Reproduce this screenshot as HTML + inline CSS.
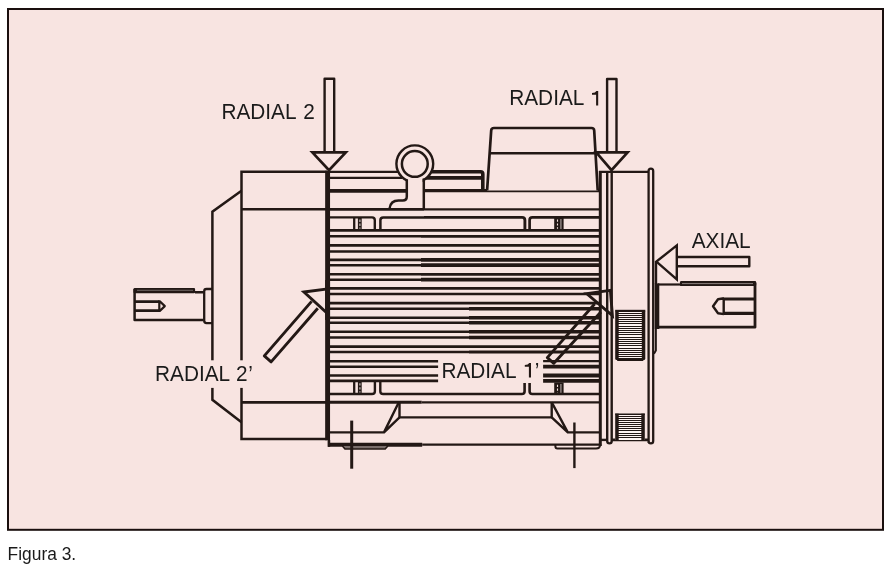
<!DOCTYPE html>
<html><head><meta charset="utf-8"><title>Figura 3</title>
<style>
html,body{margin:0;padding:0;background:#fff;}
body{width:893px;height:569px;overflow:hidden;position:relative;font-family:"Liberation Sans",sans-serif;}
svg{position:absolute;left:0;top:0;display:block;}
text{font-family:"Liberation Sans",sans-serif;fill:#231815;}
</style></head><body>
<svg width="893" height="569" viewBox="0 0 893 569">
<rect x="0" y="0" width="893" height="569" fill="#ffffff"/>
<rect x="8" y="9" width="875" height="520.8" fill="#f8e4e1" stroke="#1a0f0e" stroke-width="2"/>
<g stroke="#231815" fill="none">
<path d="M241.5 190.8 L212.4 211.7 L212.4 399.8 L241.5 422.3" stroke-width="2.5" fill="none" stroke-linejoin="miter" stroke-linecap="butt" />
<path d="M327 171.8 L241.5 171.8 L241.5 439.1 L327 439.1" stroke-width="2.5" fill="none" stroke-linejoin="miter" stroke-linecap="butt" />
<line x1="241.5" y1="209.3" x2="330" y2="209.3" stroke-width="2.5" stroke-linecap="butt" />
<line x1="241.5" y1="402.3" x2="330" y2="402.3" stroke-width="2.7" stroke-linecap="butt" />
<path d="M203.5 292.2 L195 292.2 M203.5 319.9 L134.6 319.9 L134.6 289" stroke-width="2.5" fill="none" stroke-linejoin="round" stroke-linecap="butt" />
<rect x="133.5" y="287.9" width="61.6" height="5.4" fill="#231815" stroke="none" stroke-width="0" rx="1.2"/>
<line x1="137" y1="290.3" x2="193" y2="290.3" stroke="#5f5653" stroke-width="1.2"/>
<path d="M212.4 289 L206.5 289 Q204.2 289 204.2 291.3 L204.2 320.8 Q204.2 323.1 206.5 323.1 L212.4 323.1" stroke-width="2.3" fill="none" stroke-linejoin="miter" stroke-linecap="butt" />
<path d="M134.6 301.6 L159.3 301.6 M134.6 310.6 L159.3 310.6" stroke-width="2.8" fill="none" stroke-linejoin="miter" stroke-linecap="butt" />
<path d="M159.3 300.3 L159.3 311.9 M159.8 301.2 L164.8 306.1 L159.8 311.0" stroke-width="2.2" fill="none" stroke-linejoin="round" stroke-linecap="butt" />
<line x1="330" y1="230.4" x2="421" y2="230.4" stroke-width="2.6" stroke-linecap="butt" />
<line x1="421" y1="230.4" x2="469" y2="230.4" stroke-width="2.9" stroke-linecap="butt" />
<line x1="469" y1="230.4" x2="600" y2="230.4" stroke-width="2.9" stroke-linecap="butt" />
<line x1="330" y1="236.3" x2="421" y2="236.3" stroke-width="2.6" stroke-linecap="butt" />
<line x1="421" y1="236.3" x2="469" y2="236.3" stroke-width="2.8" stroke-linecap="butt" />
<line x1="469" y1="236.3" x2="600" y2="236.3" stroke-width="2.8" stroke-linecap="butt" />
<line x1="330" y1="245.4" x2="421" y2="245.4" stroke-width="2.6" stroke-linecap="butt" />
<line x1="421" y1="245.4" x2="469" y2="245.4" stroke-width="2.8" stroke-linecap="butt" />
<line x1="469" y1="245.4" x2="600" y2="245.4" stroke-width="2.8" stroke-linecap="butt" />
<line x1="330" y1="251.5" x2="421" y2="251.5" stroke-width="2.6" stroke-linecap="butt" />
<line x1="421" y1="251.5" x2="469" y2="251.5" stroke-width="2.6" stroke-linecap="butt" />
<line x1="469" y1="251.5" x2="600" y2="251.5" stroke-width="2.6" stroke-linecap="butt" />
<line x1="330" y1="259.9" x2="421" y2="259.9" stroke-width="2.6" stroke-linecap="butt" />
<line x1="421" y1="259.9" x2="469" y2="259.9" stroke-width="3.7" stroke-linecap="butt" />
<line x1="469" y1="259.9" x2="600" y2="259.9" stroke-width="3.7" stroke-linecap="butt" />
<line x1="330" y1="265.2" x2="421" y2="265.2" stroke-width="2.6" stroke-linecap="butt" />
<line x1="421" y1="265.2" x2="469" y2="265.2" stroke-width="3.7" stroke-linecap="butt" />
<line x1="469" y1="265.2" x2="600" y2="265.2" stroke-width="3.7" stroke-linecap="butt" />
<line x1="330" y1="274.3" x2="421" y2="274.3" stroke-width="2.6" stroke-linecap="butt" />
<line x1="421" y1="274.3" x2="469" y2="274.3" stroke-width="2.8" stroke-linecap="butt" />
<line x1="469" y1="274.3" x2="600" y2="274.3" stroke-width="2.8" stroke-linecap="butt" />
<line x1="330" y1="279.7" x2="421" y2="279.7" stroke-width="2.6" stroke-linecap="butt" />
<line x1="421" y1="279.7" x2="469" y2="279.7" stroke-width="3.7" stroke-linecap="butt" />
<line x1="469" y1="279.7" x2="600" y2="279.7" stroke-width="3.7" stroke-linecap="butt" />
<line x1="330" y1="288.4" x2="421" y2="288.4" stroke-width="2.6" stroke-linecap="butt" />
<line x1="421" y1="288.4" x2="469" y2="288.4" stroke-width="2.7" stroke-linecap="butt" />
<line x1="469" y1="288.4" x2="600" y2="288.4" stroke-width="2.7" stroke-linecap="butt" />
<line x1="330" y1="294.0" x2="421" y2="294.0" stroke-width="2.6" stroke-linecap="butt" />
<line x1="421" y1="294.0" x2="469" y2="294.0" stroke-width="2.7" stroke-linecap="butt" />
<line x1="469" y1="294.0" x2="600" y2="294.0" stroke-width="2.7" stroke-linecap="butt" />
<line x1="330" y1="303.1" x2="421" y2="303.1" stroke-width="2.6" stroke-linecap="butt" />
<line x1="421" y1="303.1" x2="469" y2="303.1" stroke-width="2.6" stroke-linecap="butt" />
<line x1="469" y1="303.1" x2="600" y2="303.1" stroke-width="2.9" stroke-linecap="butt" />
<line x1="330" y1="308.8" x2="421" y2="308.8" stroke-width="2.6" stroke-linecap="butt" />
<line x1="421" y1="308.8" x2="469" y2="308.8" stroke-width="2.6" stroke-linecap="butt" />
<line x1="469" y1="308.8" x2="600" y2="308.8" stroke-width="3.6" stroke-linecap="butt" />
<line x1="330" y1="317.7" x2="421" y2="317.7" stroke-width="2.6" stroke-linecap="butt" />
<line x1="421" y1="317.7" x2="469" y2="317.7" stroke-width="2.6" stroke-linecap="butt" />
<line x1="469" y1="317.7" x2="600" y2="317.7" stroke-width="3.6" stroke-linecap="butt" />
<line x1="330" y1="322.8" x2="421" y2="322.8" stroke-width="2.6" stroke-linecap="butt" />
<line x1="421" y1="322.8" x2="469" y2="322.8" stroke-width="2.6" stroke-linecap="butt" />
<line x1="469" y1="322.8" x2="600" y2="322.8" stroke-width="3.6" stroke-linecap="butt" />
<line x1="330" y1="331.8" x2="421" y2="331.8" stroke-width="2.6" stroke-linecap="butt" />
<line x1="421" y1="331.8" x2="469" y2="331.8" stroke-width="2.6" stroke-linecap="butt" />
<line x1="469" y1="331.8" x2="600" y2="331.8" stroke-width="3.6" stroke-linecap="butt" />
<line x1="330" y1="337.5" x2="421" y2="337.5" stroke-width="2.6" stroke-linecap="butt" />
<line x1="421" y1="337.5" x2="469" y2="337.5" stroke-width="2.6" stroke-linecap="butt" />
<line x1="469" y1="337.5" x2="600" y2="337.5" stroke-width="3.7" stroke-linecap="butt" />
<line x1="330" y1="346.6" x2="421" y2="346.6" stroke-width="2.6" stroke-linecap="butt" />
<line x1="421" y1="346.6" x2="469" y2="346.6" stroke-width="2.6" stroke-linecap="butt" />
<line x1="469" y1="346.6" x2="600" y2="346.6" stroke-width="2.9" stroke-linecap="butt" />
<line x1="330" y1="352.0" x2="421" y2="352.0" stroke-width="2.6" stroke-linecap="butt" />
<line x1="421" y1="352.0" x2="469" y2="352.0" stroke-width="2.6" stroke-linecap="butt" />
<line x1="469" y1="352.0" x2="600" y2="352.0" stroke-width="2.9" stroke-linecap="butt" />
<line x1="330" y1="361.2" x2="421" y2="361.2" stroke-width="2.6" stroke-linecap="butt" />
<line x1="421" y1="361.2" x2="469" y2="361.2" stroke-width="2.6" stroke-linecap="butt" />
<line x1="469" y1="361.2" x2="600" y2="361.2" stroke-width="2.3" stroke-linecap="butt" />
<line x1="330" y1="366.7" x2="421" y2="366.7" stroke-width="2.6" stroke-linecap="butt" />
<line x1="421" y1="366.7" x2="469" y2="366.7" stroke-width="2.6" stroke-linecap="butt" />
<line x1="469" y1="366.7" x2="600" y2="366.7" stroke-width="3.8" stroke-linecap="butt" />
<line x1="330" y1="375.5" x2="421" y2="375.5" stroke-width="2.6" stroke-linecap="butt" />
<line x1="421" y1="375.5" x2="469" y2="375.5" stroke-width="2.6" stroke-linecap="butt" />
<line x1="469" y1="375.5" x2="600" y2="375.5" stroke-width="3.8" stroke-linecap="butt" />
<line x1="330" y1="380.9" x2="421" y2="380.9" stroke-width="2.6" stroke-linecap="butt" />
<line x1="421" y1="380.9" x2="469" y2="380.9" stroke-width="2.6" stroke-linecap="butt" />
<line x1="469" y1="380.9" x2="600" y2="380.9" stroke-width="3.8" stroke-linecap="butt" />
<line x1="329" y1="171.8" x2="400" y2="171.8" stroke-width="2.2" stroke-linecap="butt" />
<line x1="329" y1="177.8" x2="402" y2="177.8" stroke-width="2.2" stroke-linecap="butt" />
<line x1="329" y1="190.9" x2="406.8" y2="190.9" stroke-width="3.7" stroke-linecap="butt" />
<path d="M430 171.8 L480.5 171.8 Q482.8 171.8 482.8 174.1 L482.8 190" stroke-width="3.6" fill="none" stroke-linejoin="miter" stroke-linecap="butt" />
<line x1="425" y1="177.9" x2="482.8" y2="177.9" stroke-width="3.6" stroke-linecap="butt" />
<line x1="423.8" y1="190.6" x2="600" y2="190.6" stroke-width="3.1" stroke-linecap="butt" />
<line x1="329" y1="209.3" x2="424" y2="209.3" stroke-width="2.7" stroke-linecap="butt" />
<line x1="424" y1="209.3" x2="600" y2="209.3" stroke-width="2.3" stroke-linecap="butt" />
<path d="M330 217.4 L372 217.4 Q374.8 217.4 374.8 220.2 L374.8 230.3" stroke-width="2.4" fill="none" stroke-linejoin="miter" stroke-linecap="butt" />
<path d="M380.4 230.3 L380.4 220.2 Q380.4 217.4 383.2 217.4 L424 217.4" stroke-width="2.5" fill="none" stroke-linejoin="miter" stroke-linecap="butt" />
<path d="M424 217.4 L522 217.4 Q524.9 217.4 524.9 220.2 L524.9 230.3" stroke-width="2.9" fill="none" stroke-linejoin="miter" stroke-linecap="butt" />
<path d="M529.6 230.3 L529.6 220.2 Q529.6 217.4 532.4 217.4 L600 217.4" stroke-width="2.7" fill="none" stroke-linejoin="miter" stroke-linecap="butt" />
<line x1="354.2" y1="217.4" x2="354.2" y2="230.3" stroke-width="2.3" stroke-linecap="butt" />
<line x1="359.8" y1="217.4" x2="359.8" y2="230.3" stroke-width="3.8" stroke-linecap="butt" />
<line x1="359.9" y1="219.6" x2="359.9" y2="228.8" stroke="#a79c99" stroke-width="1.5" stroke-dasharray="2.4 1.6"/>
<rect x="554.2" y="217.4" width="9.399999999999977" height="12.900000000000006" fill="#231815" stroke="none" stroke-width="0" rx="0"/>
<line x1="557.5" y1="219.6" x2="557.5" y2="228.8" stroke="#f3dfdc" stroke-width="1.1" stroke-dasharray="2.2 1.6"/>
<line x1="560.9000000000001" y1="218.9" x2="560.9000000000001" y2="229.10000000000002" stroke="#8d827f" stroke-width="1.5"/>
<path d="M374.9 381 L374.9 391.2 Q374.9 394 372 394 L330 394" stroke-width="2.4" fill="none" stroke-linejoin="miter" stroke-linecap="butt" />
<path d="M380.3 381 L380.3 391.2 Q380.3 394 383.2 394 L424 394" stroke-width="2.4" fill="none" stroke-linejoin="miter" stroke-linecap="butt" />
<path d="M424 394 L521.8 394 Q524.6 394 524.6 391.2 L524.6 381" stroke-width="2.6" fill="none" stroke-linejoin="miter" stroke-linecap="butt" />
<path d="M529.6 381 L529.6 391.2 Q529.6 394 532.4 394 L600 394" stroke-width="2.6" fill="none" stroke-linejoin="miter" stroke-linecap="butt" />
<line x1="354.2" y1="381" x2="354.2" y2="394" stroke-width="2.3" stroke-linecap="butt" />
<line x1="359.8" y1="381" x2="359.8" y2="394" stroke-width="3.8" stroke-linecap="butt" />
<line x1="359.9" y1="383.2" x2="359.9" y2="392.5" stroke="#a79c99" stroke-width="1.5" stroke-dasharray="2.4 1.6"/>
<rect x="554.2" y="382.5" width="9.399999999999977" height="11.5" fill="#231815" stroke="none" stroke-width="0" rx="0"/>
<line x1="557.5" y1="384.7" x2="557.5" y2="392.5" stroke="#f3dfdc" stroke-width="1.1" stroke-dasharray="2.2 1.6"/>
<line x1="560.9000000000001" y1="384.0" x2="560.9000000000001" y2="392.8" stroke="#8d827f" stroke-width="1.5"/>
<line x1="329" y1="402.3" x2="421.7" y2="402.3" stroke-width="3.0" stroke-linecap="butt" />
<line x1="421.7" y1="402.3" x2="600" y2="402.3" stroke-width="2.3" stroke-linecap="butt" />
<path d="M330 432.4 L384 432.4 L398.8 402.3 M384 432.4 L399.5 417.4" stroke-width="2.4" fill="none" stroke-linejoin="round" stroke-linecap="butt" />
<path d="M399.5 402.3 L399.5 417.4 L551.7 417.4 L551.7 402.3" stroke-width="2.4" fill="none" stroke-linejoin="miter" stroke-linecap="butt" />
<path d="M551.7 402.3 L567.8 432.4 L600 432.4 M551.7 417.4 L567.8 432.4" stroke-width="2.4" fill="none" stroke-linejoin="round" stroke-linecap="butt" />
<line x1="328" y1="444.8" x2="422.2" y2="444.8" stroke-width="4.0" stroke-linecap="butt" />
<line x1="422.2" y1="444.7" x2="600" y2="444.7" stroke-width="2.2" stroke-linecap="butt" />
<path d="M342.4 446 L345 449.0 L385.2 449.0 L387.8 446" stroke-width="1.6" fill="#7a6e6b" stroke-linejoin="miter" stroke-linecap="butt" />
<path d="M555.4 445 L555.4 446.5 Q555.4 448.5 557.4 448.5 L596 448.5 Q600.3 448.5 600.3 444" stroke-width="2.0" fill="none" stroke-linejoin="miter" stroke-linecap="butt" />
<line x1="351.7" y1="420.6" x2="351.7" y2="468.7" stroke-width="3.0" stroke-linecap="butt" />
<line x1="574.4" y1="422.5" x2="574.4" y2="468.1" stroke-width="2.4" stroke-linecap="butt" />
<line x1="327.6" y1="170.8" x2="327.6" y2="440.2" stroke-width="4.9" stroke-linecap="butt" />
<line x1="328.9" y1="440" x2="328.9" y2="446.8" stroke-width="2.6" stroke-linecap="butt" />
<circle cx="414.8" cy="163.8" r="18.4" fill="#f8e4e1" stroke-width="2.4"/>
<circle cx="414.8" cy="163.9" r="12.9" fill="#f8e4e1" stroke-width="2.5"/>
<rect x="408" y="178.5" width="14.6" height="29" fill="#f8e4e1" stroke="none" stroke-width="0" rx="0"/>
<path d="M406.8 179.5 L406.8 196.5 Q406.8 200.5 402.8 200.5 L398.5 200.5 Q390.5 200.5 389.6 208.5" stroke-width="2.5" fill="none" stroke-linejoin="miter" stroke-linecap="butt" />
<line x1="423.8" y1="178.5" x2="423.8" y2="209.3" stroke-width="2.5" stroke-linecap="butt" />
<path d="M487.1 190.4 L491.2 130.5 Q491.4 128 494 128 L591.5 128 Q594 128 594.2 130.5 L597.7 190.4" stroke-width="2.7" fill="#f8e4e1" stroke-linejoin="miter" stroke-linecap="butt" />
<line x1="489.6" y1="153.3" x2="595.4" y2="153.3" stroke-width="2.4" stroke-linecap="butt" />
<line x1="600.3" y1="171" x2="600.3" y2="446" stroke-width="3.0" stroke-linecap="butt" />
<line x1="599" y1="171.9" x2="648.5" y2="171.9" stroke-width="2.2" stroke-linecap="butt" />
<path d="M607.2 172 L607.2 441 Q607.2 443.4 609.5 443.4 Q611.7 443.4 611.7 441 L611.7 172" stroke-width="2.4" fill="none" stroke-linejoin="miter" stroke-linecap="butt" />
<path d="M648.6 443 L648.6 171 Q648.6 168.6 650.9 168.6 Q653.2 168.6 653.2 171 L653.2 441 Q653.2 443.4 650.9 443.4 Q648.6 443.4 648.6 441" stroke-width="2.3" fill="none" stroke-linejoin="miter" stroke-linecap="butt" />
<line x1="600" y1="439.9" x2="607.2" y2="439.9" stroke-width="2.4" stroke-linecap="butt" />
<line x1="611.7" y1="439.9" x2="648.4" y2="439.9" stroke-width="2.6" stroke-linecap="butt" />
<rect x="615.2" y="310.0" width="30.09999999999991" height="50.0" fill="#fff4f2" stroke="none" stroke-width="0" rx="1.5"/>
<line x1="617.2" y1="311.5" x2="643.3" y2="311.5" stroke-width="1.0" stroke-linecap="butt" />
<line x1="617.2" y1="313.5" x2="643.3" y2="313.5" stroke-width="1.0" stroke-linecap="butt" />
<line x1="617.2" y1="315.5" x2="643.3" y2="315.5" stroke-width="1.0" stroke-linecap="butt" />
<line x1="617.2" y1="317.5" x2="643.3" y2="317.5" stroke-width="1.0" stroke-linecap="butt" />
<line x1="617.2" y1="319.5" x2="643.3" y2="319.5" stroke-width="1.0" stroke-linecap="butt" />
<line x1="617.2" y1="321.5" x2="643.3" y2="321.5" stroke-width="1.0" stroke-linecap="butt" />
<line x1="617.2" y1="323.5" x2="643.3" y2="323.5" stroke-width="1.0" stroke-linecap="butt" />
<line x1="617.2" y1="326.5" x2="643.3" y2="326.5" stroke-width="1.0" stroke-linecap="butt" />
<line x1="617.2" y1="328.5" x2="643.3" y2="328.5" stroke-width="1.0" stroke-linecap="butt" />
<line x1="617.2" y1="330.5" x2="643.3" y2="330.5" stroke-width="1.0" stroke-linecap="butt" />
<line x1="617.2" y1="332.5" x2="643.3" y2="332.5" stroke-width="1.0" stroke-linecap="butt" />
<line x1="617.2" y1="334.5" x2="643.3" y2="334.5" stroke-width="1.0" stroke-linecap="butt" />
<line x1="617.2" y1="337.5" x2="643.3" y2="337.5" stroke-width="1.0" stroke-linecap="butt" />
<line x1="617.2" y1="339.5" x2="643.3" y2="339.5" stroke-width="1.0" stroke-linecap="butt" />
<line x1="617.2" y1="341.5" x2="643.3" y2="341.5" stroke-width="1.0" stroke-linecap="butt" />
<line x1="617.2" y1="343.5" x2="643.3" y2="343.5" stroke-width="1.0" stroke-linecap="butt" />
<line x1="617.2" y1="345.5" x2="643.3" y2="345.5" stroke-width="1.0" stroke-linecap="butt" />
<line x1="617.2" y1="348.5" x2="643.3" y2="348.5" stroke-width="1.0" stroke-linecap="butt" />
<line x1="617.2" y1="350.5" x2="643.3" y2="350.5" stroke-width="1.0" stroke-linecap="butt" />
<line x1="617.2" y1="352.5" x2="643.3" y2="352.5" stroke-width="1.0" stroke-linecap="butt" />
<line x1="617.2" y1="354.5" x2="643.3" y2="354.5" stroke-width="1.0" stroke-linecap="butt" />
<line x1="617.2" y1="356.5" x2="643.3" y2="356.5" stroke-width="1.0" stroke-linecap="butt" />
<line x1="617.2" y1="358.5" x2="643.3" y2="358.5" stroke-width="1.0" stroke-linecap="butt" />
<line x1="617.2" y1="360.5" x2="643.3" y2="360.5" stroke-width="1.0" stroke-linecap="butt" />
<rect x="615.2" y="310.0" width="3.5" height="50.0" fill="#231815" stroke="none" stroke-width="0" rx="1.5"/>
<rect x="641.8" y="310.0" width="3.5" height="50.0" fill="#231815" stroke="none" stroke-width="0" rx="1.5"/>
<line x1="615.2" y1="310.6" x2="645.3" y2="310.6" stroke-width="1.6" stroke-linecap="butt" />
<line x1="617" y1="359.3" x2="643.5" y2="359.3" stroke-width="1.6" stroke-linecap="butt" />
<rect x="615.2" y="413.6" width="29.59999999999991" height="26.399999999999977" fill="#fff4f2" stroke="none" stroke-width="0" rx="0"/>
<line x1="617.2" y1="414.5" x2="642.8" y2="414.5" stroke-width="1.0" stroke-linecap="butt" />
<line x1="617.2" y1="416.5" x2="642.8" y2="416.5" stroke-width="1.0" stroke-linecap="butt" />
<line x1="617.2" y1="418.5" x2="642.8" y2="418.5" stroke-width="1.0" stroke-linecap="butt" />
<line x1="617.2" y1="420.5" x2="642.8" y2="420.5" stroke-width="1.0" stroke-linecap="butt" />
<line x1="617.2" y1="422.5" x2="642.8" y2="422.5" stroke-width="1.0" stroke-linecap="butt" />
<line x1="617.2" y1="424.5" x2="642.8" y2="424.5" stroke-width="1.0" stroke-linecap="butt" />
<line x1="617.2" y1="426.5" x2="642.8" y2="426.5" stroke-width="1.0" stroke-linecap="butt" />
<line x1="617.2" y1="428.5" x2="642.8" y2="428.5" stroke-width="1.0" stroke-linecap="butt" />
<line x1="617.2" y1="430.5" x2="642.8" y2="430.5" stroke-width="1.0" stroke-linecap="butt" />
<line x1="617.2" y1="433.5" x2="642.8" y2="433.5" stroke-width="1.0" stroke-linecap="butt" />
<line x1="617.2" y1="435.5" x2="642.8" y2="435.5" stroke-width="1.0" stroke-linecap="butt" />
<line x1="617.2" y1="437.5" x2="642.8" y2="437.5" stroke-width="1.0" stroke-linecap="butt" />
<rect x="615.2" y="413.6" width="3.5" height="26.399999999999977" fill="#231815" stroke="none" stroke-width="0" rx="0"/>
<rect x="641.3" y="413.6" width="3.5" height="26.399999999999977" fill="#231815" stroke="none" stroke-width="0" rx="0"/>
<line x1="615.2" y1="414.2" x2="644.8" y2="414.2" stroke-width="1.4" stroke-linecap="butt" />
<line x1="656.0" y1="262" x2="656.0" y2="284" stroke-width="2.4" stroke-linecap="butt" />
<line x1="657.0" y1="283.4" x2="657.0" y2="329" stroke-width="4.6" stroke-linecap="butt" />
<path d="M655.9 329 L655.9 350.5 L654 353.8" stroke-width="1.9" fill="none" stroke-linejoin="miter" stroke-linecap="butt" />
<line x1="658" y1="284.5" x2="681" y2="284.5" stroke-width="2.2" stroke-linecap="butt" />
<rect x="680" y="281.0" width="76.2" height="5.1" fill="#231815" stroke="none" stroke-width="0" rx="1.2"/>
<line x1="682" y1="283.6" x2="753" y2="283.6" stroke="#8a7f7c" stroke-width="1.0"/>
<path d="M755 283 L755 327.2 L658 327.2" stroke-width="2.8" fill="none" stroke-linejoin="round" stroke-linecap="butt" />
<path d="M755 299 L724 299 M755 313.3 L724 313.3" stroke-width="3.2" fill="none" stroke-linejoin="miter" stroke-linecap="butt" />
<path d="M723.7 298 L723.7 314.4 M724 298.3 L718 299.2 L713 306.2 L718 313.2 L724 314.1" stroke-width="2.4" fill="none" stroke-linejoin="round" stroke-linecap="butt" />
</g>
<g stroke="#231815" fill="none" stroke-width="2.4" stroke-linejoin="miter">
<path d="M324.6 152.2 L324.6 78.8 L334.2 78.8 L334.2 152.2" stroke-linejoin="round"/>
<path d="M312.4 152.3 L345.8 152.3 L329.0 170.2 Z" stroke-width="2.7"/>
<path d="M607.1 152.2 L607.1 79 L616.5 79 L616.5 152.2" stroke-linejoin="round"/>
<path d="M596.2 152.3 L627.6 152.3 L611.5 170.2 Z" stroke-width="2.7"/>
<path d="M676.8 257.0 L749.3 257.0 L749.3 266.3 L676.8 266.3" stroke-linejoin="round"/>
<path d="M676.8 245.4 L676.8 279.3 L656.4 261.6 Z"/>
<path d="M311.6 301.4 L264.3 355.9 L271.1 361.9 L317.8 308.2" stroke-linejoin="round" stroke-width="2.9"/>
<path d="M304.0 292.0 L328 288.8 L327.5 313.6 Z" stroke-width="2.9"/>
<path d="M594.6 304 L547.3 357.6 L553.8 363.3 L600.9 311.9" stroke-linejoin="round" stroke-width="2.9"/>
<path d="M586.6 293.6 L610.4 290.4 L612.4 315.6 Z" stroke-width="2.9"/>
</g>
<line x1="327.6" y1="280" x2="327.6" y2="320" stroke="#231815" stroke-width="4.9"/>
<rect x="150" y="360.3" width="107" height="27.6" fill="#f8e4e1" stroke="none" stroke-width="0" rx="0"/>
<rect x="438.1" y="355" width="105" height="28" fill="#f8e4e1" stroke="none" stroke-width="0" rx="0"/>
<path d="M598.2 105.5 L596.1 105.5 L596.1 94.7 L592 94.7 L592 93.0 Q595.6 92.9 596.4 90.9 L598.2 90.9 Z" fill="#231815"/>
<path d="M598.2 105.5 L596.1 105.5 L596.1 94.7 L592 94.7 L592 93.0 Q595.6 92.9 596.4 90.9 L598.2 90.9 Z" fill="#231815" transform="translate(-67.2,272.1)"/>
<g font-size="21.6" style="filter:grayscale(1)">
<text transform="translate(221.4,118.7) scale(0.964,1)">RADIAL</text>
<text transform="translate(303.2,118.7) scale(0.964,1)">2</text>
<text transform="translate(509.2,105.4) scale(0.964,1)">RADIAL</text>
<text transform="translate(691.7,247.6) scale(0.964,1)">AXIAL</text>
<text transform="translate(155.0,380.7) scale(0.964,1)">RADIAL</text>
<text transform="translate(236.0,380.7) scale(0.964,1)">2</text>
<text transform="translate(248.2,380.7) scale(0.964,1)">’</text>
<text transform="translate(441.4,377.6) scale(0.964,1)">RADIAL</text>
<text transform="translate(534.8,377.6) scale(0.964,1)">’</text>
</g>
<g style="filter:grayscale(1)"><text transform="translate(7.6,560.4) scale(0.92,1)" font-size="18.9" fill="#1a1a1a">Figura 3.</text></g>
</svg>
</body></html>
